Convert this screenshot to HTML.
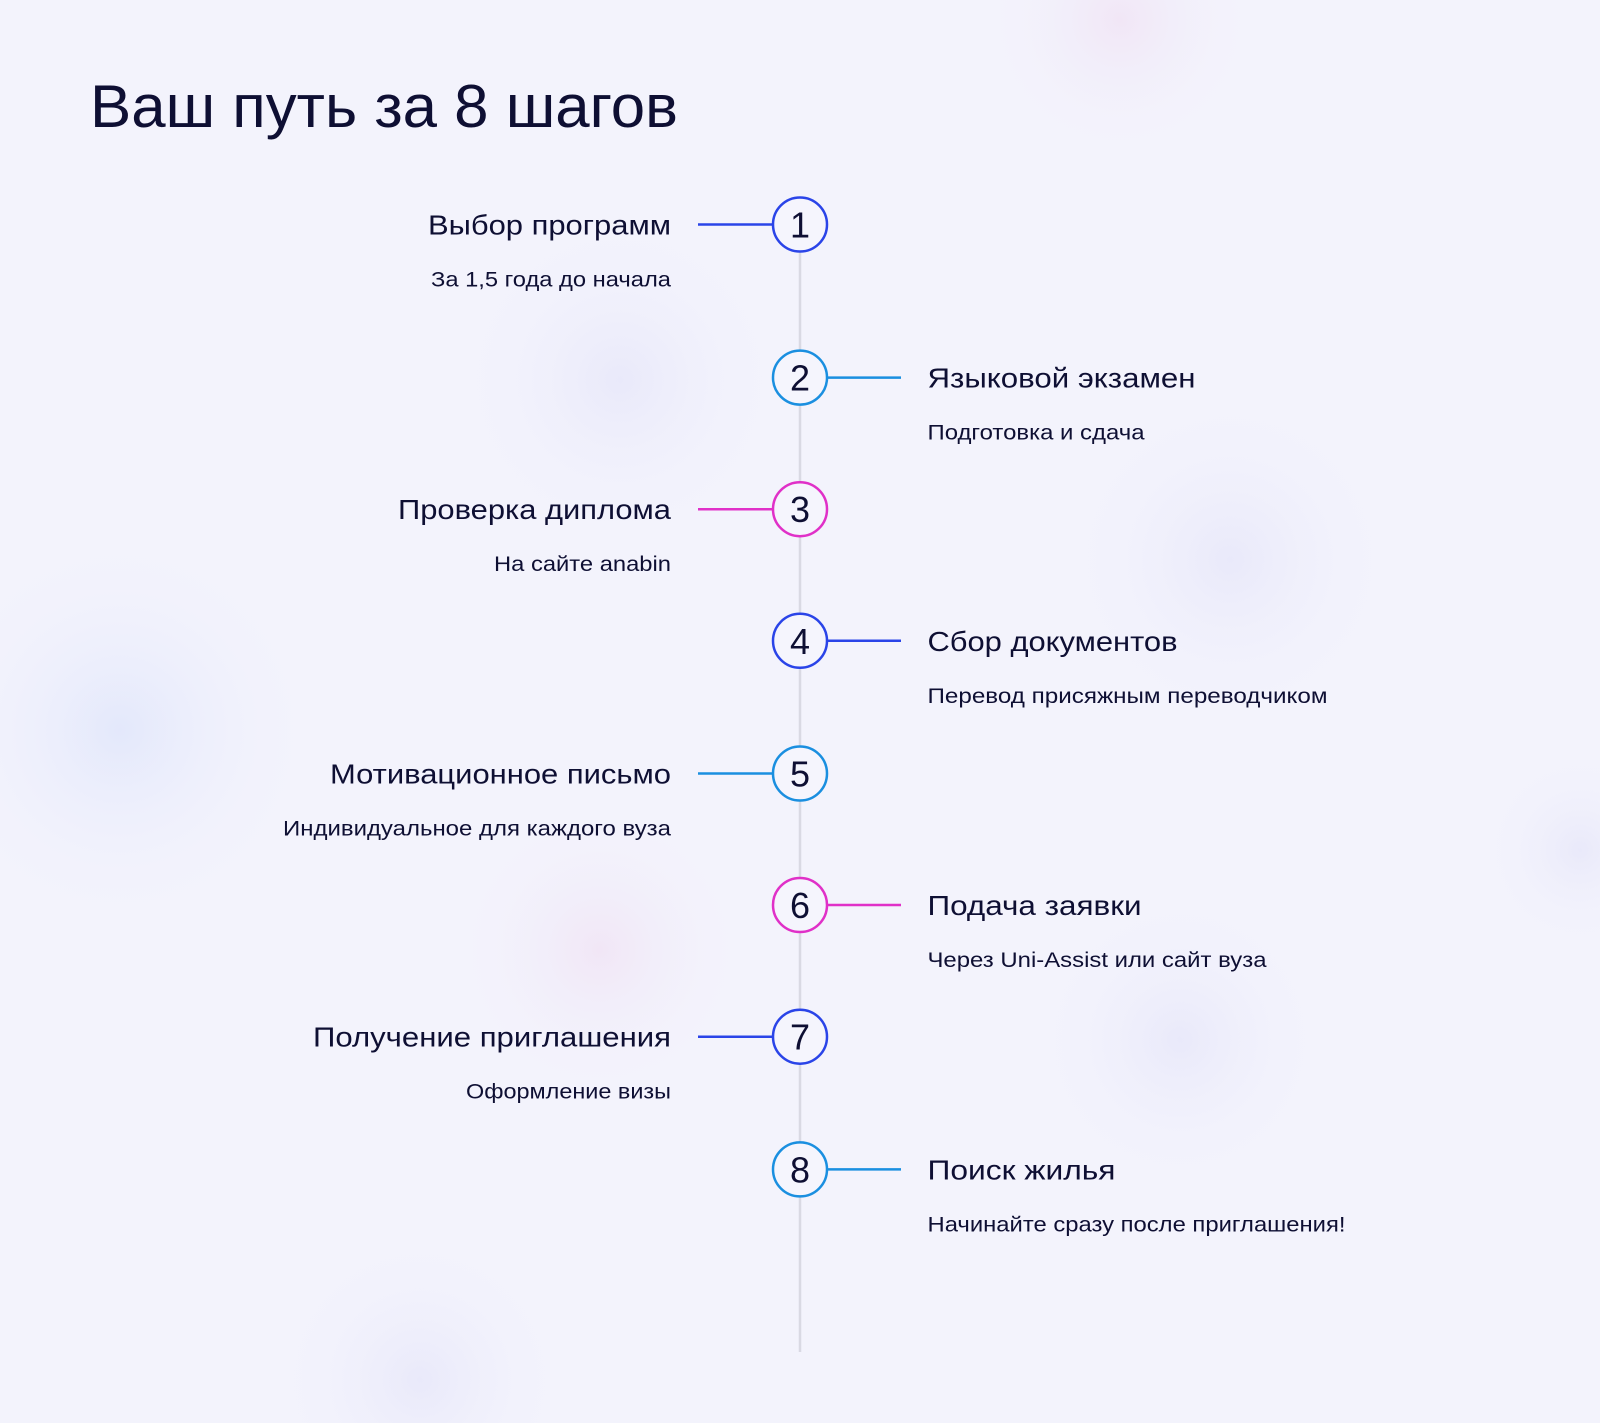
<!DOCTYPE html>
<html><head><meta charset="utf-8"><style>
html,body{margin:0;padding:0;width:1600px;height:1423px;overflow:hidden;background:#f3f3fc}
svg{display:block;position:absolute;left:0;top:0}
text{font-family:"Liberation Sans","DejaVu Sans",sans-serif;fill:#0e0f33}
</style></head><body>
<svg width="1600" height="1423" viewBox="0 0 1600 1423" xmlns="http://www.w3.org/2000/svg">
<defs>
<radialGradient id="g1"><stop offset="0" stop-color="#e3e8fb"/><stop offset="1" stop-color="#f3f3fc" stop-opacity="0"/></radialGradient>
<radialGradient id="g2"><stop offset="0" stop-color="#f1e6f6"/><stop offset="1" stop-color="#f3f3fc" stop-opacity="0"/></radialGradient>
<radialGradient id="g3"><stop offset="0" stop-color="#e9e9fa"/><stop offset="1" stop-color="#f3f3fc" stop-opacity="0"/></radialGradient>
</defs>
<rect width="1600" height="1423" fill="#f3f3fc"/>
<circle cx="120" cy="730" r="200" fill="url(#g1)"/>
<circle cx="620" cy="380" r="170" fill="url(#g3)"/>
<circle cx="1230" cy="560" r="170" fill="url(#g3)"/>
<circle cx="600" cy="950" r="150" fill="url(#g2)"/>
<circle cx="1180" cy="1040" r="150" fill="url(#g3)"/>
<circle cx="1120" cy="20" r="140" fill="url(#g2)"/>
<circle cx="420" cy="1380" r="150" fill="url(#g3)"/>
<circle cx="1580" cy="850" r="100" fill="url(#g3)"/>

<text x="90" y="127" font-size="60" textLength="588" lengthAdjust="spacingAndGlyphs">Ваш путь за 8 шагов</text>

<line x1="800" y1="224" x2="800" y2="1352" stroke="#d9d9e3" stroke-width="2.5"/>

<g stroke-width="2.5">
<line x1="698" y1="224.5" x2="773" y2="224.5" stroke="#2a44e8"/>
<line x1="827" y1="377.6" x2="901" y2="377.6" stroke="#1a8fe0"/>
<line x1="698" y1="509.2" x2="773" y2="509.2" stroke="#e030c8"/>
<line x1="827" y1="640.8" x2="901" y2="640.8" stroke="#2a44e8"/>
<line x1="698" y1="773.5" x2="773" y2="773.5" stroke="#1a8fe0"/>
<line x1="827" y1="905" x2="901" y2="905" stroke="#e030c8"/>
<line x1="698" y1="1036.7" x2="773" y2="1036.7" stroke="#2a44e8"/>
<line x1="827" y1="1169.4" x2="901" y2="1169.4" stroke="#1a8fe0"/>
<g fill="#f5f5fd">
<circle cx="800" cy="224.5" r="27" stroke="#2a44e8"/>
<circle cx="800" cy="377.6" r="27" stroke="#1a8fe0"/>
<circle cx="800" cy="509.2" r="27" stroke="#e030c8"/>
<circle cx="800" cy="640.8" r="27" stroke="#2a44e8"/>
<circle cx="800" cy="773.5" r="27" stroke="#1a8fe0"/>
<circle cx="800" cy="905" r="27" stroke="#e030c8"/>
<circle cx="800" cy="1036.7" r="27" stroke="#2a44e8"/>
<circle cx="800" cy="1169.4" r="27" stroke="#1a8fe0"/>
</g></g>
<g font-size="36" text-anchor="middle">
<text x="800" y="237.5">1</text>
<text x="800" y="390.6">2</text>
<text x="800" y="522.2">3</text>
<text x="800" y="653.8">4</text>
<text x="800" y="786.5">5</text>
<text x="800" y="918">6</text>
<text x="800" y="1049.7">7</text>
<text x="800" y="1182.4">8</text>
</g>

<g font-size="28">
<text x="428" y="234.5" textLength="243" lengthAdjust="spacingAndGlyphs">Выбор программ</text>
<text x="927.5" y="387.6" textLength="268" lengthAdjust="spacingAndGlyphs">Языковой экзамен</text>
<text x="398" y="519.2" textLength="273" lengthAdjust="spacingAndGlyphs">Проверка диплома</text>
<text x="927.5" y="650.8" textLength="250" lengthAdjust="spacingAndGlyphs">Сбор документов</text>
<text x="330" y="783.5" textLength="341" lengthAdjust="spacingAndGlyphs">Мотивационное письмо</text>
<text x="927.5" y="915" textLength="214" lengthAdjust="spacingAndGlyphs">Подача заявки</text>
<text x="313" y="1046.7" textLength="358" lengthAdjust="spacingAndGlyphs">Получение приглашения</text>
<text x="927.5" y="1179.4" textLength="188" lengthAdjust="spacingAndGlyphs">Поиск жилья</text>
</g>
<g font-size="21.5">
<text x="431" y="286.5" textLength="240" lengthAdjust="spacingAndGlyphs">За 1,5 года до начала</text>
<text x="927.5" y="439.6" textLength="217" lengthAdjust="spacingAndGlyphs">Подготовка и сдача</text>
<text x="494" y="571.2" textLength="177" lengthAdjust="spacingAndGlyphs">На сайте anabin</text>
<text x="927.5" y="702.8" textLength="400" lengthAdjust="spacingAndGlyphs">Перевод присяжным переводчиком</text>
<text x="283" y="835.5" textLength="388" lengthAdjust="spacingAndGlyphs">Индивидуальное для каждого вуза</text>
<text x="927.5" y="967" textLength="339" lengthAdjust="spacingAndGlyphs">Через Uni-Assist или сайт вуза</text>
<text x="466" y="1098.7" textLength="205" lengthAdjust="spacingAndGlyphs">Оформление визы</text>
<text x="927.5" y="1231.4" textLength="418" lengthAdjust="spacingAndGlyphs">Начинайте сразу после приглашения!</text>
</g>
</svg>
</body></html>
